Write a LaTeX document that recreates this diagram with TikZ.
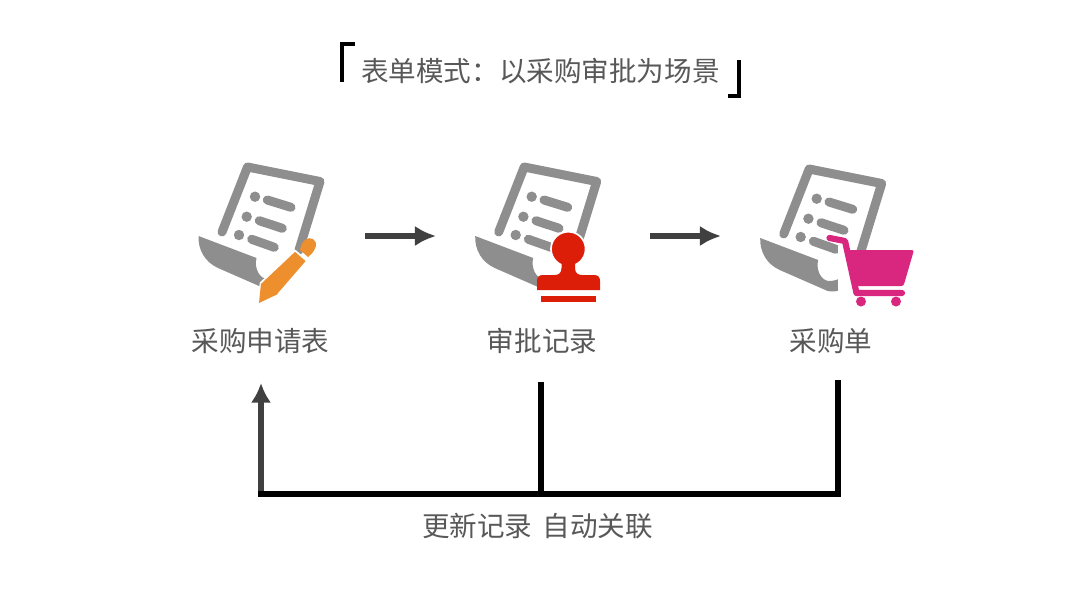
\documentclass[tikz,border=0pt]{standalone}
\usepackage{fontspec}
\newfontfamily\cjk{Noto Sans CJK SC}
\usetikzlibrary{calc, arrows.meta}
\definecolor{docgray}{HTML}{8E8E8E}
\definecolor{textgray}{HTML}{585858}
\definecolor{arrowgray}{HTML}{404040}
\definecolor{pencilorange}{HTML}{EE8F2D}
\definecolor{stampred}{HTML}{DC1E08}
\definecolor{cartpink}{HTML}{D9267F}
\tikzset{>=latex,
  nametext/.style={text=textgray, font=\cjk\fontsize{19.6}{24}\selectfont, inner sep=0pt},
  flow/.style={arrowgray, line width=4pt, -{Latex[length=15pt,width=14.5pt]}},
  feed/.style={black, line width=4pt},
  bracket/.style={black, line width=2.9pt},
  docline/.style={docgray, line width=6.4pt, line cap=round, line join=round}
}
% the sheet with its curl, drawn at the place of the first one
\newcommand{\docsheet}{
  \draw[docline] (222,232) -- (247.5,167) -- (320,181.5) -- (299,250);
  \fill[docgray] (255,196.7) circle (5.2);
  \fill[docgray] (246.7,216.7) circle (5.2);
  \fill[docgray] (239,235) circle (5.2);
  \draw[docline] (267.3,200) -- (291,207.3);
  \draw[docline] (259.3,220.7) -- (282.3,228.3);
  \draw[docline] (251.7,239.3) -- (274.3,247.3);
  \fill[docgray] (198.5,236) -- (256.5,258) .. controls (254,267) and (259,280) .. (269,279)
    .. controls (278,278) and (284,274) .. (289,266) -- (289,277)
    .. controls (284,287) and (276,291) .. (266,289) -- (218,268)
    .. controls (205,262) and (198,250) .. (198.5,236) -- cycle;
}
\begin{document}
\begin{tikzpicture}[x=0.025cm, y=-0.025cm]
\useasboundingbox (0,0) rectangle (1080,608);

% title
\node[nametext, anchor=west] (title) at (361,71) {表单模式\char"FF1A 以采购审批为场景};
\coordinate (openstart) at (341.7,82);
\coordinate (openend) at (354.5,44.3);
\coordinate (closestart) at (739.3,60);
\coordinate (closeend) at (727.5,95.7);
\draw[bracket] (openstart) |- (openend);
\draw[bracket] (closestart) |- (closeend);

% first sheet and pencil
\docsheet
\fill[pencilorange] (300,250) .. controls (301,241) and (308,236) .. (313,239) .. controls (318,242) and (317,250) .. (308,257) -- cycle;
\draw[white, line width=1.2pt, line join=round, fill=pencilorange] (260.5,283) -- (295,250.5) -- (307,261) -- (278,294.5) -- (259,303) -- cycle;
\fill[pencilorange] (259,303) -- (261,283.5) -- (278,294) -- cycle;

% second sheet and stamp
\begin{scope}[shift={(276.7,0)}]
\docsheet
\end{scope}
\fill[white] (552,262) rectangle (590,277);
\draw[white, line width=1.2pt, fill=stampred] (568.3,249) circle (17.3);
\fill[stampred] (561.5,260) -- (575,260) -- (575,268) .. controls (575,273) and (578,275) .. (582,275)
  -- (594,275) .. controls (598,275) and (600,277) .. (600,281) -- (600,290) -- (537,290) -- (537,281)
  .. controls (537,277) and (539,275) .. (543,275) -- (555,275) .. controls (558.5,275) and (561.5,273) .. (561.5,268) -- cycle;
\fill[stampred] (540.7,295.7) rectangle (595.7,302.3);

% third sheet and cart
\begin{scope}[shift={(561.7,2)}]
\docsheet
\end{scope}
\fill[white] (838,246) rectangle (856,296);
\fill[white] (856,286) rectangle (900,297);
\draw[cartpink, line width=4.4pt, line cap=round, line join=round] (829.5,238) -- (845,241) -- (856.5,293) -- (902,293);
\fill[cartpink, rounded corners=1.5pt] (848,250) -- (914,250) -- (903.5,286) -- (855,286) -- cycle;
\fill[cartpink] (861,301.5) circle (5);
\fill[cartpink] (896,301.5) circle (5);

% names under the sheets
\node[nametext] (reqname) at (260.5,341) {采购申请表};
\node[nametext] (approvename) at (542,341) {审批记录};
\node[nametext] (ordername) at (831,341) {采购单};

% arrows between the sheets
\coordinate (reqout) at (365,236);
\coordinate (approvein) at (436,236);
\coordinate (approveout) at (650,236);
\coordinate (orderin) at (721,236);
\draw[flow] (reqout) -- (approvein);
\draw[flow] (approveout) -- (orderin);

% feedback along the bottom
\coordinate (approvedrop) at (541,382);
\coordinate (orderdrop) at (838,383);
\coordinate (approvefoot) at (541,494);
\coordinate (reqfoot) at (261,494);
\coordinate (reqtop) at (261,383);
\draw[flow, -{Latex[length=14pt,width=14.5pt]}] (reqfoot) -- (reqtop);
\draw[feed, line cap=rect] (orderdrop) |- (reqfoot);
\draw[feed] (approvedrop) -- (approvefoot);
\node[nametext] (feedname) at (537.5,526) {更新记录\hspace{.36em}自动关联};
\end{tikzpicture}
\end{document}
